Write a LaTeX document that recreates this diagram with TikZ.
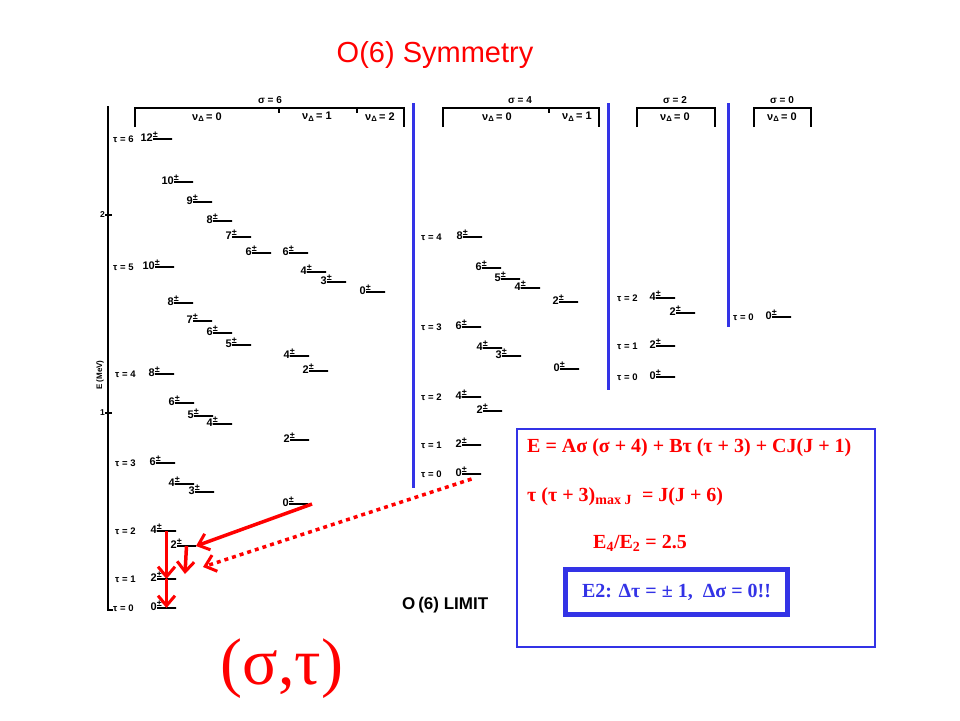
\documentclass[tikz,border=0pt]{standalone}
\usepackage{fontspec}
\setmainfont{Liberation Sans}
\newfontfamily\timesfont{Liberation Serif}
\usetikzlibrary{arrows.meta}
\definecolor{sepblue}{RGB}{51,51,230}
\definecolor{arrred}{RGB}{255,0,0}
\newcommand{\pmsup}{\rlap{\raisebox{3.5pt}{\fontsize{9}{9}\selectfont ±}}}

\begin{document}
\begin{tikzpicture}[x=1pt,y=-1pt]
	\tikzstyle{lvl}=[draw, line width=1.4pt, minimum width=19pt, minimum height=0pt, inner sep=0pt, outer sep=0pt, anchor=west]
	\tikzstyle{jlbl}=[anchor=base east, inner sep=0pt, yshift=-2pt, font=\bfseries\fontsize{11}{11}\selectfont]
	\tikzstyle{taulbl}=[anchor=west, inner sep=0pt, font=\bfseries\fontsize{9.5}{9.5}\selectfont]
	\tikzstyle{hdr}=[inner sep=0pt, font=\bfseries\fontsize{10}{10}\selectfont]
	\tikzstyle{nu}=[inner sep=0pt, font=\bfseries\fontsize{11}{11}\selectfont]
	\tikzstyle{brk}=[line width=1.5pt]
	\tikzstyle{sep}=[sepblue, line width=3pt]
	\tikzstyle{trans}=[arrred, line width=3.5pt, -{Straight Barb[length=10pt,width=17pt,line width=3pt]}]
	\tikzstyle{ftrans}=[trans, dash pattern=on 4pt off 4pt]
	\tikzstyle{eqn}=[anchor=west, inner sep=0pt, text=arrred, font=\timesfont\bfseries\fontsize{20}{20}\selectfont]
	\useasboundingbox (0,0) rectangle (960,720);
	\node[text=arrred, font=\fontsize{29}{29}\selectfont] (title) at (435,55) {O(6) Symmetry};
	\draw[brk] (108,106) -- (108,610) -- (113,610);
	\draw[brk] (105,215) -- (112,215);
	\draw[brk] (105,413) -- (112,413);
	\node[anchor=east, inner sep=0pt, font=\bfseries\fontsize{8.5}{8.5}\selectfont] (mev2) at (105,215) {2};
	\node[anchor=east, inner sep=0pt, font=\bfseries\fontsize{8.5}{8.5}\selectfont] (mev1) at (105,413) {1};
	\node[rotate=90, inner sep=0pt, font=\bfseries\fontsize{8}{8}\selectfont] (eaxis) at (100,375) {E (MeV)};
	\draw[brk] (135,127) |- (404,108) -- (404,127);
	\draw[brk] (279,108) -- (279,113);
	\draw[brk] (357,108) -- (357,113);
	\draw[brk] (443,127) |- (599,108) -- (599,127);
	\draw[brk] (549,108) -- (549,113);
	\draw[brk] (637,127) |- (715,108) -- (715,127);
	\draw[brk] (754,127) |- (811,108) -- (811,127);
	\node[hdr] (s6) at (270,100) {σ = 6};
	\node[hdr] (s4) at (520,100) {σ = 4};
	\node[hdr] (s2) at (675,100) {σ = 2};
	\node[hdr] (s0) at (782,100) {σ = 0};
	\node[nu] (n60) at (207,117) {ν\textsubscript{Δ}\,= 0};
	\node[nu] (n61) at (317,117) {ν\textsubscript{Δ}\,= 1};
	\node[nu] (n62) at (380,117) {ν\textsubscript{Δ}\,= 2};
	\node[nu] (n40) at (497,117) {ν\textsubscript{Δ}\,= 0};
	\node[nu] (n41) at (577,117) {ν\textsubscript{Δ}\,= 1};
	\node[nu] (n20) at (675,117) {ν\textsubscript{Δ}\,= 0};
	\node[nu] (n00) at (782,117) {ν\textsubscript{Δ}\,= 0};
	\draw[sep] (413,103) -- (413,488);
	\draw[sep] (608,103) -- (608,390);
	\draw[sep] (728,103) -- (728,327);
	\foreach \n/\x/\y/\j in {a1/153/139/12, a2/174/182/10, a3/193/202/9, a4/213/221/8, a5/232/237/7,
		a6/252/253/6, b1/289/253/6, a7/155/267/10, b2/307/272/4, b3/327/282/3, c1/366/292/0,
		a8/174/303/8, a9/193/321/7, a10/213/333/6, a11/232/345/5, b4/290/356/4, a12/155/374/8,
		b5/309/371/2, a13/175/403/6, a14/194/416/5, a15/213/424/4, b6/290/440/2, a16/156/463/6,
		a17/175/484/4, a18/195/492/3, b7/289/504/0, a19/157/531/4, a20/177/546/2, a21/157/579/2,
		a22/157/608/0,
		d1/463/237/8, d2/482/268/6, d3/501/279/5, d4/521/288/4, e1/559/302/2, d5/462/327/6,
		d6/483/348/4, d7/502/356/3, e2/560/369/0, d8/462/397/4, d9/483/411/2, d10/462/445/2,
		d11/462/474/0,
		f1/656/298/4, f2/676/313/2, f3/656/346/2, f4/656/377/0,
		g1/772/317/0}
		\node[lvl, label={[jlbl]west:\j\pmsup}] (\n) at (\x,\y) {};
	\foreach \n/\x/\y/\t in {ta6/113/139/6, ta5/113/267/5, ta4/115/374/4, ta3/115/463/3,
		ta2/115/531/2, ta1/115/579/1, ta0/113/608/0,
		tb4/421/237/4, tb3/421/327/3, tb2/421/397/2, tb1/421/445/1, tb0/421/474/0,
		tc2/617/298/2, tc1/617/346/1, tc0/617/377/0, td0/733/317/0}
		\node[taulbl] (\n) at (\x,\y) {τ = \t};
	\coordinate (t20) at (185,574);
	\coordinate (tdot) at (203,567);
	\draw[trans] (a19.center) -- (a21.center);
	\draw[trans] (a21.center) -- (a22.center);
	\draw[trans] (a20.center) -- (t20);
	\draw[trans] ([xshift=4pt]b7.east) -- (a20.east);
	\draw[ftrans] ([yshift=-5pt]d11.center) -- (tdot);
	\node[anchor=west, inner sep=0pt, font=\bfseries\fontsize{17}{17}\selectfont] (limit) at (402,605) {O\,(6) LIMIT};
	\node[text=arrred, inner sep=0pt, font=\timesfont\fontsize{66}{66}\selectfont] (sigtau) at (282,669) {(σ,τ)};
	\node[draw=sepblue, line width=2pt, minimum width=358pt, minimum height=218pt] (box) at (696,538) {};
	\node[eqn] (eq1) at (527,448) {E = Aσ (σ + 4) + Bτ (τ + 3) + CJ(J + 1)};
	\node[eqn] (eq2) at (527,497) {τ (τ + 3)\textsubscript{max J}\ \ = J(J + 6)};
	\node[eqn] (eq3) at (593,543) {E\textsubscript{4}/E\textsubscript{2} = 2.5};
	\node[draw=sepblue, line width=5pt, minimum width=222pt, minimum height=45pt, text=sepblue, font=\timesfont\bfseries\fontsize{20}{20}\selectfont] (rule) at (676.5,592) {E2: Δτ = ± 1,\ \ Δσ = 0!!};
\end{tikzpicture}
\end{document}
